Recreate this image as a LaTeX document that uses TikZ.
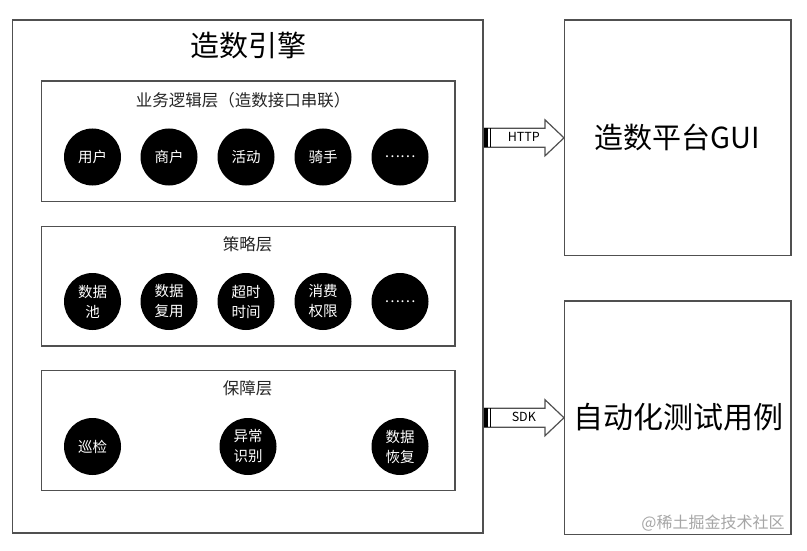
\documentclass[tikz,border=0pt]{standalone}
\usepackage{fontspec}
\setmainfont{Noto Sans CJK SC}
\usetikzlibrary{calc}
\definecolor{linec}{RGB}{80,80,80}
\begin{document}
\begin{tikzpicture}[x=1pt,y=-1pt,
  box/.style={draw=linec, line width=1.4pt, rectangle, inner sep=0pt},
  circ/.style={circle, fill=black, minimum size=57pt, inner sep=0pt, text=white,
    font=\fontsize{14.5}{20}\selectfont, align=center},
  ltitle/.style={font=\fontsize{16.5}{20}\selectfont, text=black!85},
  bigtext/.style={font=\fontsize{29}{34}\selectfont},
  blockarrow/.style={draw=linec, line width=1.2pt, fill=white, line join=miter},
  arrowlabel/.style={font=\fontsize{12.5}{14}\selectfont}
]
\useasboundingbox (0,0) rectangle (807,551);
\fill[white] (0,0) rectangle (807,551);

% boxes
\node[box, minimum width=470.5pt, minimum height=513pt] (engine) at (247.75,276.5) {};
\node[box, minimum width=413.5pt, minimum height=120.7pt] (layer1) at (248.25,141.35) {};
\node[box, minimum width=413.5pt, minimum height=119.3pt] (layer2) at (248.25,286.35) {};
\node[box, minimum width=413.5pt, minimum height=120pt] (layer3) at (248.25,430.7) {};
\node[box, minimum width=226.3pt, minimum height=235.7pt] (gui) at (677.85,137.85) {};
\node[box, minimum width=226.3pt, minimum height=233.5pt] (auto) at (677.85,417.75) {};

% titles
\node[font=\fontsize{29}{32}\selectfont] (title) at (248,45) {造数引擎};
\node[ltitle] (t1) at (243,100) {业务逻辑层（造数接口串联）};
\node[ltitle] (t2) at (247.5,244) {策略层};
\node[ltitle] (t3) at (247.5,388) {保障层};
\node[bigtext] (guitext) at (677,137) {造数平台GUI};
\node[bigtext, font=\fontsize{30}{34}\selectfont] (autotext) at (678,417) {自动化测试用例};

% layer 1 circles
\node[circ] (c11) at (92.5,157) {用户};
\node[circ] (c12) at (169,157) {商户};
\node[circ] (c13) at (246,157) {活动};
\node[circ] (c14) at (323,157) {骑手};
\node[circ] (c15) at (400,157) {……};

% layer 2 circles
\node[circ] (c21) at (92.5,301.5) {数据\\池};
\node[circ] (c22) at (169,301.5) {数据\\复用};
\node[circ] (c23) at (246,301.5) {超时\\时间};
\node[circ] (c24) at (323,301.5) {消费\\权限};
\node[circ] (c25) at (400,301.5) {……};

% layer 3 circles
\node[circ] (c31) at (92.5,446.5) {巡检};
\node[circ] (c32) at (248,446.5) {异常\\识别};
\node[circ] (c33) at (400,446.5) {数据\\恢复};

% arrows
\coordinate (h1) at (engine.east |- gui.west);
\coordinate (h2) at (engine.east |- auto.west);
\foreach \s/\e/\lab in {h1/gui/HTTP, h2/auto/SDK}{
  \draw[blockarrow] ($(\s)+(0,-9.5)$) -- ($(\e.west)+(-19,-9.5)$) -- ($(\e.west)+(-19,-18)$)
     -- (\e.west) -- ($(\e.west)+(-19,18)$) -- ($(\e.west)+(-19,9.5)$) -- ($(\s)+(0,9.5)$) -- cycle;
  \fill[black] ($(\s)+(0,-9.5)$) rectangle ($(\s)+(4,9.5)$);
  \draw[black, line width=1.2pt] ($(\s)+(7,-9.5)$) -- ($(\s)+(7,9.5)$);
  \node[arrowlabel] at ($(\s)!0.5!(\e.west)+(0,-0.5)$) {\lab};
}

% watermark
\node[font=\fontsize{16}{18}\selectfont, text=black!35] (wm) at (713,523) {@稀土掘金技术社区};
\end{tikzpicture}
\end{document}
